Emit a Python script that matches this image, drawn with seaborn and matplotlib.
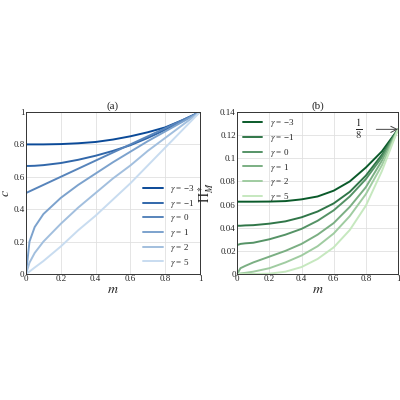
import numpy as np
import matplotlib
matplotlib.use("Agg")
import matplotlib.pyplot as plt
import seaborn as sns

m = [0, 0.02, 0.05, 0.1, 0.2, 0.3, 0.4, 0.5, 0.6, 0.7, 0.8, 0.9, 1.0]
gammas = ["-3", "-1", "0", "1", "2", "5"]

# panel (a): c vs m
c_vals = [
    [0.8, 0.8, 0.8, 0.8, 0.802, 0.807, 0.815, 0.83, 0.85, 0.875, 0.905, 0.95, 1],
    [0.667, 0.667, 0.668, 0.672, 0.685, 0.705, 0.73, 0.76, 0.795, 0.84, 0.89, 0.945, 1],
    [0.5, 0.51, 0.525, 0.55, 0.6, 0.65, 0.7, 0.75, 0.8, 0.85, 0.9, 0.95, 1],
    [0, 0.2, 0.29, 0.37, 0.47, 0.55, 0.62, 0.69, 0.755, 0.82, 0.88, 0.94, 1],
    [0, 0.07, 0.13, 0.2, 0.31, 0.41, 0.5, 0.59, 0.67, 0.76, 0.84, 0.92, 1],
    [0, 0.015, 0.04, 0.08, 0.17, 0.27, 0.36, 0.46, 0.56, 0.67, 0.78, 0.89, 1],
]

# panel (b): Pi_M* vs m
pi_vals = [
    [0.0625, 0.0625, 0.0625, 0.0625, 0.0626, 0.063, 0.0645, 0.067, 0.072, 0.08, 0.092, 0.106, 0.125],
    [0.0417, 0.0417, 0.042, 0.0422, 0.0435, 0.0455, 0.049, 0.054, 0.061, 0.071, 0.085, 0.103, 0.125],
    [0.025, 0.026, 0.0265, 0.027, 0.03, 0.034, 0.039, 0.046, 0.055, 0.067, 0.082, 0.101, 0.125],
    [0, 0.005, 0.007, 0.01, 0.015, 0.02, 0.026, 0.034, 0.044, 0.058, 0.075, 0.098, 0.125],
    [0, 0.0005, 0.001, 0.002, 0.005, 0.01, 0.016, 0.024, 0.035, 0.05, 0.069, 0.094, 0.125],
    [0, 0, 0, 0, 0.0003, 0.002, 0.006, 0.013, 0.023, 0.038, 0.059, 0.089, 0.125],
]

sns.set_style("whitegrid")
plt.rcParams['font.family'] = ['Liberation Serif', 'DejaVu Serif']
plt.rcParams['mathtext.fontset'] = 'stix'

fig = plt.figure(figsize=(4, 4), dpi=100)
ax1 = fig.add_axes([0.065, 0.315, 0.435, 0.405])
ax2 = fig.add_axes([0.593, 0.315, 0.402, 0.405])

blues = sns.blend_palette(["#0b4a98", "#c8dcf0"], 6)
greens = sns.blend_palette(["#0a5a2a", "#c6e8bf"], 6)

for ax, vals, pal in [(ax1, c_vals, blues), (ax2, pi_vals, greens)]:
    for g, v, col in zip(gammas, vals, pal):
        lab = r"$\gamma$ = " + g.replace("-", "\u2212")
        sns.lineplot(x=m, y=v, ax=ax, color=col, lw=1.4, label=lab)
    ax.set_xlim(0, 1)
    ax.set_xticks([0, 0.2, 0.4, 0.6, 0.8, 1])
    ax.set_xticklabels(["0", "0.2", "0.4", "0.6", "0.8", "1"])
    ax.tick_params(labelsize=6.5, pad=1, length=0)
    ax.grid(color="#e0e0e0", lw=0.6)
    for s in ax.spines.values():
        s.set_color("#333333")
        s.set_linewidth(0.7)
    ax.set_xlabel(r"$m$", fontsize=10, labelpad=0)

ax1.set_ylim(0, 1)
ax1.set_yticks([0, 0.2, 0.4, 0.6, 0.8, 1])
ax1.set_yticklabels(["0", "0.2", "0.4", "0.6", "0.8", "1"])
ax1.set_ylabel(r"$c$", fontsize=10, labelpad=1)
ax1.set_title("(a)", fontsize=8, pad=2)
ax1.legend(loc="lower right", fontsize=6.5, frameon=False, handlelength=2.2,
           labelspacing=0.3, borderaxespad=0.2)

ax2.set_ylim(0, 0.14)
ax2.set_yticks([0, 0.02, 0.04, 0.06, 0.08, 0.1, 0.12, 0.14])
ax2.set_yticklabels(["0", "0.02", "0.04", "0.06", "0.08", "0.1", "0.12", "0.14"])
ax2.set_ylabel(r"$\Pi^*_M$", fontsize=10, labelpad=3)
ax2.set_title("(b)", fontsize=8, pad=2)
ax2.legend(loc="upper left", fontsize=6.5, frameon=False, handlelength=2.2,
           labelspacing=0.3, borderaxespad=0.2)
ax2.annotate(r"$\frac{1}{8}$", xy=(1, 0.125), xytext=(0.73, 0.125),
             fontsize=11, va="center",
             arrowprops=dict(arrowstyle="->", color="#444444", lw=0.7,
                             shrinkA=8, shrinkB=0))

fig.savefig("out.png", dpi=100)
